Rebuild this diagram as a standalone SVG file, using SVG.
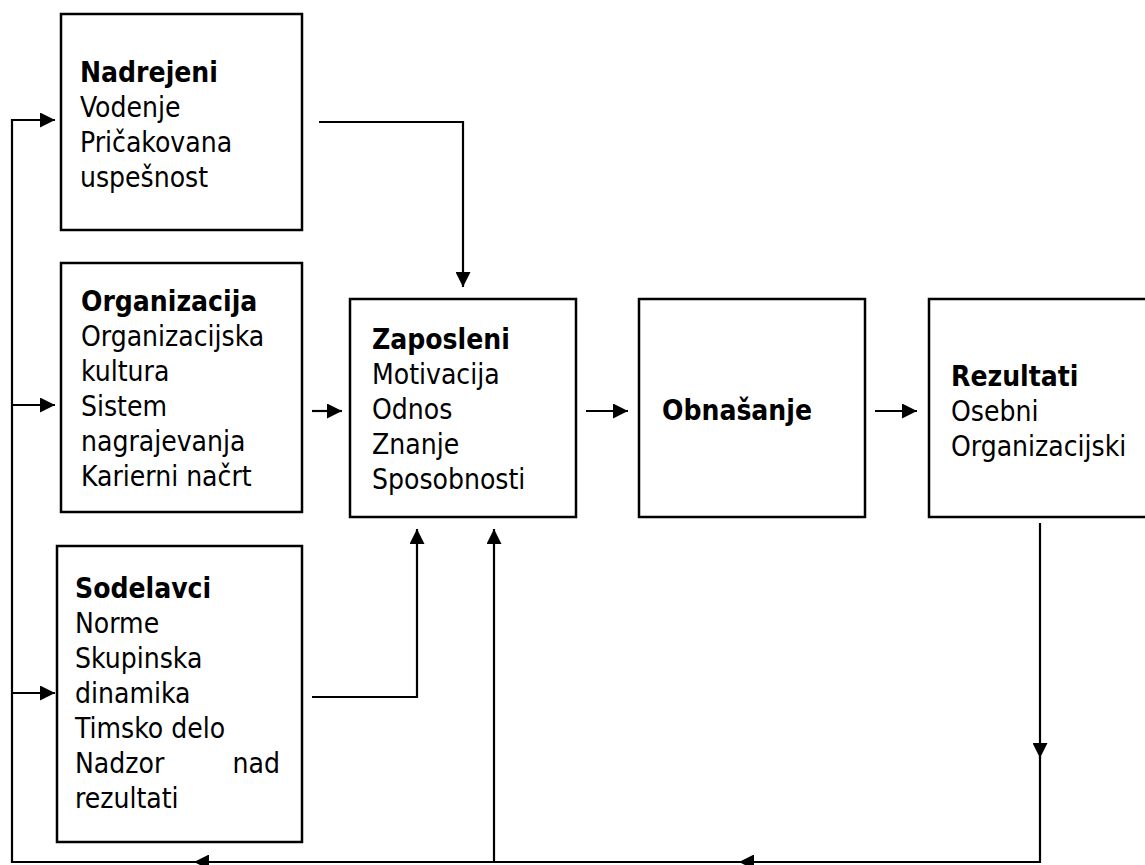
<svg xmlns="http://www.w3.org/2000/svg" width="1145" height="865" viewBox="0 0 1145 865">
<style>
.box{fill:#fff;stroke:#000;stroke-width:2.5}
text{font-family:"DejaVu Sans Condensed","DejaVu Sans",sans-serif;font-size:28px;fill:#000}
.b{font-weight:bold}
.c{fill:none;stroke:#000;stroke-width:2.2}
</style>
<defs>
<marker id="ah" markerUnits="userSpaceOnUse" markerWidth="16" markerHeight="15" refX="15" refY="7.5" orient="auto">
<path d="M0,0 L15,7.5 L0,15 z" fill="#000"/>
</marker>
</defs>
<g id="nadrejeni">
<rect class="box" x="61" y="14" width="241" height="216"/>
<text x="80" y="82" class="b">Nadrejeni</text>
<text x="80" y="117">Vodenje</text>
<text x="80" y="152">Pričakovana</text>
<text x="80" y="187">uspešnost</text>
</g>
<g id="organizacija">
<rect class="box" x="61" y="263" width="241" height="249"/>
<text x="81" y="311" class="b">Organizacija</text>
<text x="81" y="346">Organizacijska</text>
<text x="81" y="381">kultura</text>
<text x="81" y="416">Sistem</text>
<text x="81" y="451">nagrajevanja</text>
<text x="81" y="486">Karierni načrt</text>
</g>
<g id="sodelavci">
<rect class="box" x="57" y="546" width="245" height="296"/>
<text x="75" y="598" class="b">Sodelavci</text>
<text x="75" y="633">Norme</text>
<text x="75" y="668">Skupinska</text>
<text x="75" y="703">dinamika</text>
<text x="75" y="738">Timsko delo</text>
<text x="75" y="773">Nadzor</text>
<text x="280" y="773" text-anchor="end">nad</text>
<text x="75" y="808">rezultati</text>
</g>
<g id="zaposleni">
<rect class="box" x="350" y="299" width="226" height="218"/>
<text x="372" y="349" class="b">Zaposleni</text>
<text x="372" y="384">Motivacija</text>
<text x="372" y="419">Odnos</text>
<text x="372" y="454">Znanje</text>
<text x="372" y="489">Sposobnosti</text>
</g>
<g id="obnasanje">
<rect class="box" x="639" y="299" width="226" height="218"/>
<text x="662" y="420" class="b">Obnašanje</text>
</g>
<g id="rezultati">
<rect class="box" x="929" y="299" width="226" height="218"/>
<text x="951" y="386" class="b">Rezultati</text>
<text x="951" y="421">Osebni</text>
<text x="951" y="456">Organizacijski</text>
</g>
<g id="connectors">
<path class="c" d="M319,122 H463 V287" marker-end="url(#ah)"/>
<path class="c" d="M312,411 H342" marker-end="url(#ah)"/>
<path class="c" d="M586,411 H628" marker-end="url(#ah)"/>
<path class="c" d="M875,411 H917" marker-end="url(#ah)"/>
<path class="c" d="M312,697 H417 V529" marker-end="url(#ah)"/>
<path class="c" d="M494,862 V529" marker-end="url(#ah)"/>
<path class="c" d="M1040,523 V758" marker-end="url(#ah)"/>
<path class="c" d="M1040,757 V862 H739" marker-end="url(#ah)"/>
<path class="c" d="M740,862 H194" marker-end="url(#ah)"/>
<path class="c" d="M195,862 H12 V120 H55" marker-end="url(#ah)"/>
<path class="c" d="M12,405 H55" marker-end="url(#ah)"/>
<path class="c" d="M12,693 H55" marker-end="url(#ah)"/>
</g>
</svg>
